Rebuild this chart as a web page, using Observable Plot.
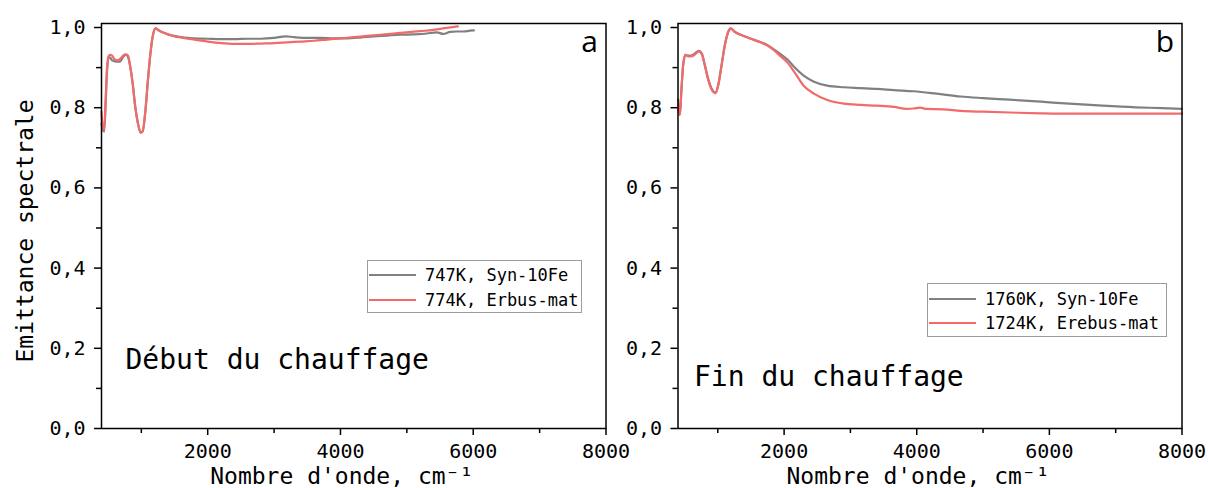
<!DOCTYPE html>
<html>
<head>
<meta charset="utf-8">
<script src="https://cdn.jsdelivr.net/npm/d3@7"></script>
<script src="https://cdn.jsdelivr.net/npm/@observablehq/plot@0.6"></script>
<style>
  body { margin: 0; background: #fff; }
  #root { position: relative; width: 1208px; height: 488px; overflow: hidden; background: #fff; font-family: "DejaVu Sans Mono", monospace; }
  .panel { position: absolute; top: 0; }
  .legend { position: absolute; border: 1px solid #9c9c9c; background: #fff; box-sizing: border-box; }
  .row { position: absolute; left: 0; height: 20px; display: flex; align-items: center; }
  .swatch { width: 47px; height: 2px; margin-left: 1px; }
  .lab { margin-left: 9px; font-size: 17px; color: #000; white-space: nowrap; }
</style>
</head>
<body>
<div id="root"></div>
<script>
// ---------- data ----------
const names = ["Syn-10Fe", "Erebus-mat"];
const seriesColors = ["#808080", "#f26a6a"];
const xMajor = [2000, 4000, 6000, 8000];
const xMinor = [1000, 3000, 5000, 7000];
const yMajor = [0, 0.2, 0.4, 0.6, 0.8, 1.0];
const yMinor = [0.1, 0.3, 0.5, 0.7, 0.9];

// Panel a: Début du chauffage
const aSynX = [400,420,440,460,480,505,530,560,620,680,720,760,790,830,870,910,950,990,1020,1060,1100,1140,1180,1214,1260,1320,1400,1500,1600,1700,1800,2000,2200,2400,2600,2800,3000,3175,3300,3500,3700,3900,4100,4300,4500,4700,4900,5100,5300,5450,5550,5650,5750,5850,5950,6010];
const aSynY = [0.76,0.745,0.74,0.80,0.88,0.925,0.925,0.918,0.915,0.915,0.925,0.932,0.93,0.905,0.86,0.80,0.76,0.738,0.74,0.79,0.87,0.94,0.985,0.998,0.993,0.988,0.983,0.979,0.976,0.974,0.973,0.972,0.971,0.971,0.972,0.972,0.974,0.978,0.976,0.974,0.974,0.973,0.973,0.975,0.978,0.98,0.982,0.983,0.985,0.988,0.984,0.989,0.99,0.99,0.992,0.993];
const aErbX = [400,420,440,460,480,505,530,560,600,650,700,740,770,800,830,870,910,950,990,1020,1060,1100,1140,1180,1214,1260,1320,1400,1500,1600,1700,1800,2000,2200,2400,2600,2800,3000,3200,3400,3600,3800,4000,4200,4400,4600,4800,5000,5200,5400,5600,5768];
const aErbY = [0.79,0.75,0.745,0.81,0.89,0.928,0.932,0.93,0.92,0.918,0.925,0.932,0.933,0.93,0.905,0.86,0.80,0.76,0.738,0.742,0.79,0.87,0.94,0.985,0.998,0.993,0.988,0.983,0.978,0.975,0.972,0.970,0.965,0.961,0.959,0.959,0.960,0.961,0.963,0.965,0.967,0.970,0.973,0.976,0.979,0.982,0.985,0.988,0.991,0.994,0.999,1.003];

// Panel b: Fin du chauffage
const bSynX = [400,415,430,450,480,513,550,600,650,714,760,800,850,900,966,1010,1060,1110,1160,1192,1250,1300,1389,1500,1645,1750,1841,1950,2048,2150,2295,2450,2651,2900,3154,3400,3656,3956,4300,4663,5000,5400,5870,6300,6800,7300,7700,8000];
const bSynY = [0.82,0.79,0.785,0.84,0.91,0.932,0.93,0.93,0.935,0.942,0.935,0.91,0.875,0.85,0.838,0.86,0.91,0.96,0.99,0.998,0.99,0.985,0.979,0.972,0.963,0.956,0.946,0.933,0.921,0.902,0.880,0.865,0.855,0.851,0.849,0.847,0.844,0.841,0.835,0.828,0.824,0.820,0.815,0.810,0.805,0.801,0.799,0.797];
const bErbX = [400,415,430,450,480,513,550,600,650,714,760,800,850,900,966,1010,1060,1110,1160,1192,1250,1300,1389,1500,1645,1750,1841,1950,2048,2150,2295,2450,2651,2900,3154,3400,3656,3850,3956,4050,4150,4400,4663,5000,5400,5870,6300,6800,7300,7700,8000];
const bErbY = [0.815,0.785,0.782,0.84,0.91,0.932,0.928,0.928,0.932,0.94,0.933,0.908,0.873,0.848,0.836,0.858,0.908,0.958,0.99,0.998,0.99,0.985,0.979,0.972,0.963,0.955,0.944,0.928,0.913,0.89,0.855,0.835,0.819,0.81,0.807,0.805,0.802,0.797,0.798,0.80,0.797,0.796,0.792,0.79,0.788,0.786,0.785,0.785,0.785,0.785,0.785];

const legendA = ["747K, Syn-10Fe", "774K, Erbus-mat"];
const legendB = ["1760K, Syn-10Fe", "1724K, Erebus-mat"];

// ---------- drawing ----------
const fmtY = d => d.toFixed(1).replace(".", ",");
const mono = "DejaVu Sans Mono";

function rows(xs, ys, name) { return xs.map((x, i) => ({x, y: ys[i], name})); }

function panel({data, width, marginLeft, marginRight, corner, note, noteDx, noteDy, yTitle}) {
  const marks = [
    Plot.axisX({ticks: xMajor, tickSize: 7, tickPadding: 8, tickFormat: d => String(d), label: null, strokeWidth: 1.5, fontSize: 20}),
    Plot.axisX({ticks: xMinor, tickSize: 5, tickFormat: () => "", label: null, strokeWidth: 1.5}),
    Plot.axisY({ticks: yMajor, tickSize: 7, tickPadding: 9, tickFormat: fmtY, label: null, strokeWidth: 1.5, fontSize: 20}),
    Plot.axisY({ticks: yMinor, tickSize: 5, tickFormat: () => "", label: null, strokeWidth: 1.5}),
    Plot.line(data, {x: "x", y: "y", stroke: "name", z: "name", strokeWidth: 2.2, curve: "monotone-x"}),
    Plot.frame({stroke: "black", strokeWidth: 1.5}),
    Plot.text([corner], {text: d => d, frameAnchor: "top-right", textAnchor: "end", lineAnchor: "middle", dx: -8, dy: 19, fontSize: 30, fontFamily: "Open Sans"}),
    Plot.text([note], {text: d => d, frameAnchor: "bottom-left", textAnchor: "start", lineAnchor: "middle", dx: noteDx, dy: noteDy, fontSize: 28, fontFamily: mono}),
    Plot.text(["Nombre d'onde, cm\u207B\u00B9"], {text: d => d, frameAnchor: "bottom", textAnchor: "middle", lineAnchor: "middle", dx: -12, dy: 48, fontSize: 23, fontFamily: mono})
  ];
  if (yTitle) marks.push(Plot.text([yTitle], {text: d => d, frameAnchor: "left", textAnchor: "middle", lineAnchor: "middle", rotate: -90, dx: -76, dy: 5, fontSize: 23, fontFamily: mono}));
  return Plot.plot({
    width, height: 488, marginLeft, marginRight, marginTop: 23, marginBottom: 60,
    style: {background: "transparent", overflow: "visible", fontFamily: mono, fontSize: "20px", color: "black"},
    x: {domain: [400, 8000]},
    y: {domain: [0, 1.01]},
    color: {domain: names, range: seriesColors},
    marks
  });
}

function legend(labels, left, top, width, height, rowTops) {
  const box = document.createElement("div");
  box.className = "legend";
  Object.assign(box.style, {left: left + "px", top: top + "px", width: width + "px", height: height + "px"});
  labels.forEach((t, i) => {
    const r = document.createElement("div");
    r.className = "row";
    r.style.top = rowTops[i] + "px";
    const sw = document.createElement("div");
    sw.className = "swatch";
    sw.style.background = seriesColors[i];
    const tx = document.createElement("span");
    tx.className = "lab";
    tx.textContent = t;
    r.appendChild(sw); r.appendChild(tx);
    box.appendChild(r);
  });
  return box;
}

const root = document.getElementById("root");

const pa = panel({
  data: [...rows(aSynX, aSynY, "Syn-10Fe"), ...rows(aErbX, aErbY, "Erebus-mat")],
  width: 620, marginLeft: 101, marginRight: 14.5,
  corner: "a", note: "Début du chauffage", noteDx: 24, noteDy: -68, yTitle: "Emittance spectrale"
});
const pb = panel({
  data: [...rows(bSynX, bSynY, "Syn-10Fe"), ...rows(bErbX, bErbY, "Erebus-mat")],
  width: 604, marginLeft: 73.5, marginRight: 26.5,
  corner: "b", note: "Fin du chauffage", noteDx: 16, noteDy: -51
});
const wb = document.createElement("div"); wb.className = "panel"; wb.style.left = "604px"; wb.appendChild(pb);
const wa = document.createElement("div"); wa.className = "panel"; wa.style.left = "0px"; wa.appendChild(pa);
root.appendChild(wb);
root.appendChild(wa);
root.appendChild(legend(legendA, 367, 260, 215, 53, [4, 29]));
root.appendChild(legend(legendB, 927, 283, 240, 54, [5, 29]));
</script>
</body>
</html>
